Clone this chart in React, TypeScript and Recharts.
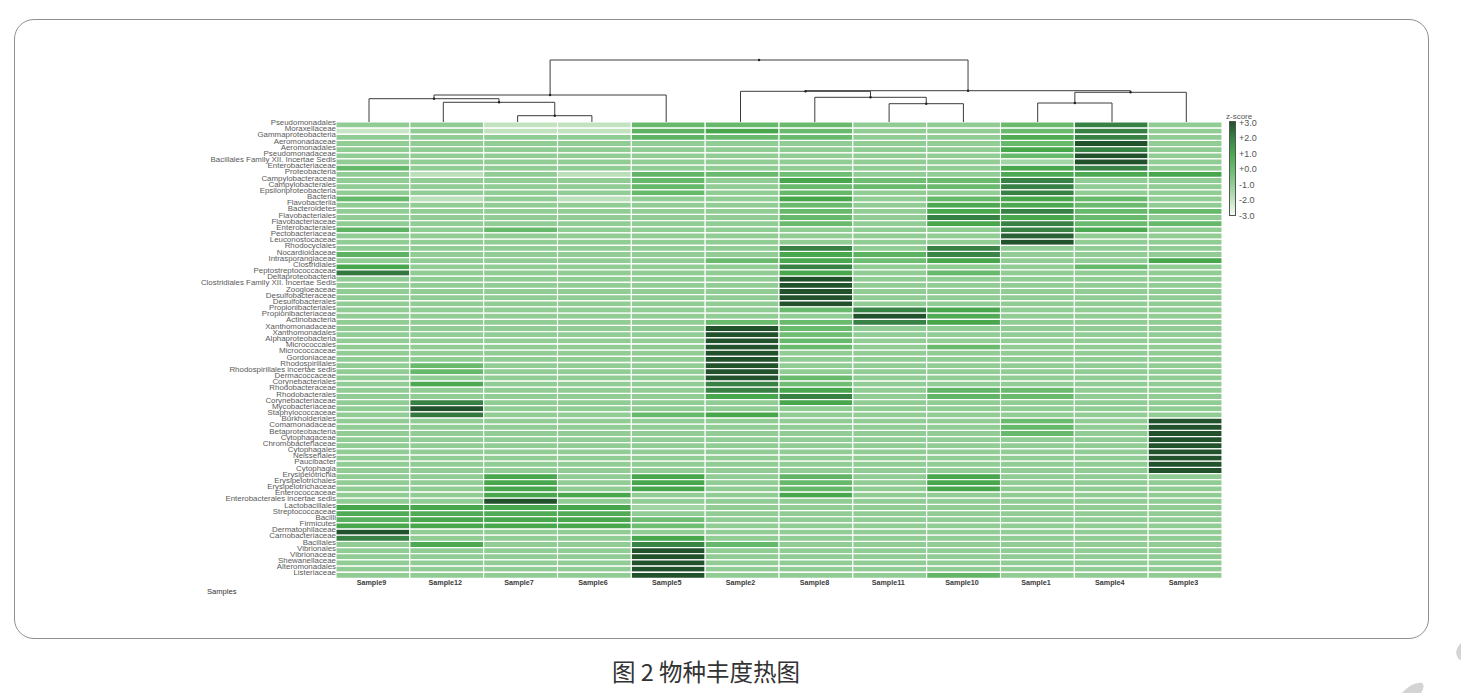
import { BarChart, Bar, Cell, XAxis, YAxis, LineChart, Line } from 'recharts';

const W = 1461;
const H = 693;

const sampleNames = ['Sample9', 'Sample12', 'Sample7', 'Sample6', 'Sample5', 'Sample2', 'Sample8', 'Sample11', 'Sample10', 'Sample1', 'Sample4', 'Sample3'];

const rowLabels = [
  'Pseudomonadales', 'Moraxellaceae', 'Gammaproteobacteria', 'Aeromonadaceae', 'Aeromonadales', 'Pseudomonadaceae',
  'Bacillales Family XII. Incertae Sedis', 'Enterobacteriaceae', 'Proteobacteria', 'Campylobacteraceae', 'Campylobacterales',
  'Epsilonproteobacteria', 'Bacteria', 'Flavobacteriia', 'Bacteroidetes', 'Flavobacteriales', 'Flavobacteriaceae',
  'Enterobacterales', 'Pectobacteriaceae', 'Leuconostocaceae', 'Rhodocyclales', 'Nocardioidaceae', 'Intrasporangiaceae',
  'Clostridiales', 'Peptostreptococcaceae', 'Deltaproteobacteria', 'Clostridiales Family XII. Incertae Sedis', 'Zoogloeaceae',
  'Desulfobacteraceae', 'Desulfobacterales', 'Propionibacteriales', 'Propionibacteriaceae', 'Actinobacteria',
  'Xanthomonadaceae', 'Xanthomonadales', 'Alphaproteobacteria', 'Micrococcales', 'Micrococcaceae', 'Gordoniaceae',
  'Rhodospirillales', 'Rhodospirillales incertae sedis', 'Dermacoccaceae', 'Corynebacteriales', 'Rhodobacteraceae',
  'Rhodobacterales', 'Corynebacteriaceae', 'Mycobacteriaceae', 'Staphylococcaceae', 'Burkholderiales', 'Comamonadaceae',
  'Betaproteobacteria', 'Cytophagaceae', 'Chromobacteriaceae', 'Cytophagales', 'Neisseriales', 'Paucibacter', 'Cytophagia',
  'Erysipelotrichia', 'Erysipelotrichales', 'Erysipelotrichaceae', 'Enterococcaceae', 'Enterobacterales incertae sedis',
  'Lactobacillales', 'Streptococcaceae', 'Bacilli', 'Firmicutes', 'Dermatophilaceae', 'Carnobacteriaceae', 'Bacillales',
  'Vibrionales', 'Vibrionaceae', 'Shewanellaceae', 'Alteromonadales', 'Listeriaceae',
];

// z-scores, one row per ten taxa. o is the pale background level most cells sit at
const o = -0.5;
const sample9 = [
  o, -1.5, o, o, o, o, o, 0.3, o, o,
  o, o, 0.3, o, o, o, o, 0.5, o, o,
  o, 0.5, o, 1, 2.2, o, o, o, o, o,
  o, o, o, o, o, o, o, o, o, o,
  o, o, o, o, o, o, o, o, o, o,
  o, o, o, o, o, o, o, o, o, o,
  o, o, 1, 0.8, 0.6, 1, 3, 2, o, o,
  o, o, o, o,
];
const sample12 = [
  o, o, o, o, o, o, o, o, -1.2, o,
  o, o, -1.2, o, o, o, o, o, o, o,
  o, o, o, o, o, o, o, o, o, o,
  o, o, o, o, o, o, o, o, o, 0.2,
  0.3, o, 0.9, o, o, 2, 3, 2.2, o, o,
  o, o, o, o, o, o, o, o, o, o,
  o, o, 1, 0.8, 1, 1, o, o, 0.9, o,
  o, o, o, o,
];
const sample7 = [
  -1.3, -1.3, o, o, o, o, o, o, o, o,
  o, o, o, o, o, o, o, 0.3, o, o,
  o, o, o, o, o, o, o, o, o, o,
  o, o, o, o, o, o, o, o, o, o,
  o, o, o, o, o, o, o, o, o, o,
  o, o, o, o, o, o, o, 1, 1, 1,
  1, 3, 1, 0.8, 1, 1, o, o, o, o,
  o, o, o, o,
];
const sample6 = [
  -1.3, -1.3, o, o, o, o, o, o, -1.2, o,
  o, o, -1.2, o, o, o, o, o, o, o,
  o, o, o, o, o, o, o, o, o, o,
  o, o, o, o, o, o, o, o, o, o,
  o, o, o, o, o, o, o, o, o, o,
  o, o, o, o, o, o, o, o, o, o,
  1, o, 1, 0.8, 1, 1, o, o, o, o,
  o, o, o, o,
];
const sample5 = [
  0.3, 0.5, 0.5, o, o, o, o, o, 0.4, 0.3,
  0.3, 0.3, o, o, o, o, o, o, o, o,
  o, o, o, o, o, o, o, o, o, o,
  o, o, o, o, o, o, o, o, o, o,
  o, o, o, o, o, o, o, 0.3, o, o,
  o, o, o, o, o, o, o, 1, 1, 1,
  o, o, -0.8, o, 0.1, 0.1, o, 1, 1.9, 3,
  3, 3, 3, 3,
];
const sample2 = [
  0.3, 1, 0.2, o, o, o, o, o, 0.2, o,
  o, o, o, o, o, o, o, o, o, o,
  o, o, 0.2, o, o, o, o, o, o, o,
  o, o, 0.2, 3, 3, 3, 3, 3, 3, 3,
  3, 3, 2, 2, 1, o, o, 1, o, o,
  o, o, o, o, o, o, o, o, o, o,
  o, o, o, o, o, o, o, o, 0.3, o,
  o, o, o, o,
];
const sample8 = [
  0.2, 0.2, 0.2, o, o, o, o, o, 0.1, 1,
  0.2, 0.3, 1, 0.2, 0.3, 0.3, 0.2, o, o, o,
  2, 1, 1, 2, 1, 3, 3, 3, 3, 3,
  0.2, o, 0.2, 0.2, 0.1, 0.3, 0.2, o, o, o,
  o, 0.2, 0.1, 1, 2, 1, o, o, o, o,
  o, o, o, o, o, o, o, 0.4, 0.3, 0.3,
  1, o, o, o, o, o, o, o, o, o,
  o, o, o, o,
];
const sample11 = [
  o, o, o, o, o, o, o, o, o, 0.1,
  0.2, o, o, o, o, o, o, o, o, o,
  o, 0.5, 0.1, o, o, o, o, o, o, o,
  2, 3, 2, o, o, o, o, o, o, o,
  o, o, o, o, o, o, o, o, o, o,
  o, o, o, o, o, o, o, o, o, o,
  o, o, o, o, o, o, o, o, o, o,
  o, o, o, o,
];
const sample10 = [
  o, o, o, o, o, o, o, o, o, 0.2,
  0.2, o, 0.3, 0.9, 1, 2, 1, o, o, o,
  2, 1.9, 1, o, 0.3, o, o, o, o, o,
  1, 0.8, 1, o, o, o, 0.2, o, o, o,
  o, o, o, 0.4, 0.4, o, o, o, o, o,
  o, o, o, o, o, o, o, 1, 1, 1,
  o, o, o, o, o, o, o, o, o, o,
  o, o, o, 0.4,
];
const sample1 = [
  0.2, 0.2, 0.8, 0.3, 1, 0.3, -0.8, 1, 0.9, 2,
  2, 2, 1, 0.9, 2, 1, 2, 2, 2.7, 3,
  o, o, o, o, o, o, o, o, o, o,
  o, o, o, o, o, o, o, o, o, o,
  o, o, o, 0.2, 0.2, o, o, o, 0.2, 0.3,
  0.3, o, o, o, o, o, o, o, o, o,
  o, o, o, o, o, o, o, o, o, o,
  o, o, o, o,
];
const sample4 = [
  2, 2, 2, 3, 2, 3, 3, 2, 0.9, o,
  o, o, 0.3, 0.2, 0.3, 0.2, 0.2, 0.9, o, o,
  o, o, o, 0.3, o, o, o, o, o, o,
  o, o, o, o, o, o, o, o, o, o,
  o, o, o, o, o, o, o, o, o, o,
  o, o, o, o, o, o, o, o, o, o,
  o, o, o, o, o, o, o, o, o, o,
  o, o, o, o,
];
const sample3 = [
  o, o, o, o, o, o, o, o, 1, o,
  o, o, o, o, 0.3, o, 0.3, o, o, o,
  o, o, 1, o, o, o, o, o, o, o,
  o, o, o, o, o, o, o, o, o, o,
  o, o, o, o, o, o, o, o, 3, 3,
  3, 3, 3, 3, 3, 3, 3, o, o, o,
  o, o, o, o, o, o, o, o, o, o,
  o, o, o, o,
];
const sampleValues = [sample9, sample12, sample7, sample6, sample5, sample2, sample8, sample11, sample10, sample1, sample4, sample3];

const legendTicks = ['+3.0', '+2.0', '+1.0', '+0.0', '-1.0', '-2.0', '-3.0'];

// dendrogram merges: left position, left height, right position, right height, merge height
const merges = [
  [2, 0, 3, 0, 6.3],
  [1, 0, 2.5, 6.3, 19.7],
  [0, 0, 1.75, 19.7, 23.3],
  [0.875, 23.3, 4, 0, 27],
  [7, 0, 8, 0, 18.3],
  [6, 0, 7.5, 18.3, 24.7],
  [5, 0, 6.75, 24.7, 30.7],
  [9, 0, 10, 0, 19],
  [9.5, 19, 11, 0, 29.7],
  [5.875, 30.7, 10.25, 29.7, 31.3],
  [2.4375, 27, 8.0625, 31.3, 62],
];

const stops: [number, number[]][] = [
  [-3, [246, 251, 245]],
  [-1.3, [194, 226, 192]],
  [-0.5, [144, 204, 148]],
  [0.2, [106, 186, 110]],
  [1, [72, 166, 77]],
  [2, [56, 129, 69]],
  [3, [34, 82, 44]],
];

function zColor(v: number) {
  for (let i = 1; i < stops.length; i++) {
    const [hi, c1] = stops[i];
    const [lo, c0] = stops[i - 1];
    if (v <= hi) {
      const t = (v - lo) / (hi - lo);
      const c = c0.map((a, k) => Math.round(a + (c1[k] - a) * t));
      return `rgb(${c.join(',')})`;
    }
  }
  return '#22522c';
}

const rows = rowLabels.map(name => {
  const row: Record<string, string | number> = { name };
  sampleNames.forEach(s => { row[s] = 1; });
  return row;
});

const RowTick = ({ x, y, payload }: any) => (
  <text x={x + 6} y={y} textAnchor="end" fontSize={7.9} fontFamily="Liberation Sans" fill="#5a5a5a">
    {payload.value}
  </text>
);

const SampleTick = ({ x, y, payload }: any) => (
  <text x={x - 1.5} y={y - 1.3} textAnchor="middle" fontSize={7.2} fontFamily="Liberation Sans" fontWeight={700} fill="#3a3a3a">
    {sampleNames[payload.value - 0.5]}
  </text>
);

const MergeDot = ({ cx, cy, payload }: any) =>
  payload.center ? <circle key={`${cx}-${cy}`} cx={cx} cy={cy} r={1.2} fill="#222" /> : <g key={`${cx}-${cy}-${payload.x}`} />;

const legendGradient = `linear-gradient(to bottom, ${[3, 2, 1, 0.2, -0.5, -1.3, -3].map(zColor).join(', ')})`;

export default function App() {
  return (
    <div style={{ position: 'absolute', left: 0, top: 0, width: W, height: H, background: '#fff', overflow: 'hidden' }}>
      <div style={{ position: 'absolute', left: 14, top: 19, width: 1413, height: 618, border: '1px solid #8f8f8f', borderRadius: 20 }} />

      <div style={{ position: 'absolute', left: 0, top: 0 }}>
        <BarChart
          width={W}
          height={H}
          data={rows}
          layout="vertical"
          barCategoryGap={0}
          margin={{ top: 122, right: 239, bottom: 94.5, left: 0 }}
        >
          <XAxis
            type="number"
            domain={[0, 12]}
            ticks={sampleNames.map((_, i) => i + 0.5)}
            interval={0}
            tick={<SampleTick />}
            tickLine={false}
            axisLine={false}
            height={20}
          />
          <YAxis
            type="category"
            dataKey="name"
            width={336}
            interval={0}
            tick={<RowTick />}
            tickLine={false}
            axisLine={false}
            tickMargin={0}
          />
          {sampleNames.map((s, i) => (
            <Bar key={s} dataKey={s} stackId="heat" isAnimationActive={false}>
              {sampleValues[i].map((v, r) => (
                <Cell key={r} fill={zColor(v)} stroke="#fff" strokeWidth={1.1} />
              ))}
            </Bar>
          ))}
        </BarChart>
      </div>

      <div style={{ position: 'absolute', left: 0, top: 0 }}>
        <LineChart width={W} height={H} margin={{ top: 50, right: 237.55, bottom: 571, left: 331.85 }}>
          <XAxis type="number" dataKey="x" domain={[-0.5, 11.5]} hide />
          <YAxis type="number" domain={[0, 72]} hide />
          {merges.map(([a, ha, b, hb, h], i) => (
            <Line
              key={i}
              data={[
                { x: a, h: ha },
                { x: a, h },
                { x: (a + b) / 2, h, center: true },
                { x: b, h },
                { x: b, h: hb },
              ]}
              dataKey="h"
              stroke="#3c3c3c"
              strokeWidth={1}
              dot={<MergeDot />}
              activeDot={false}
              isAnimationActive={false}
            />
          ))}
        </LineChart>
      </div>

      <div style={{ position: 'absolute', left: 207, top: 587, fontSize: 7.6, fontFamily: 'Liberation Sans', color: '#333', lineHeight: '10px' }}>Samples</div>

      <div style={{ position: 'absolute', left: 1226, top: 112, fontSize: 8, fontFamily: 'Liberation Sans', color: '#555', lineHeight: '9px' }}>z-score</div>
      <div style={{ position: 'absolute', left: 1229, top: 121, width: 5, height: 93, border: '1px solid #555', background: legendGradient }} />
      {legendTicks.map((t, i) => (
        <div key={t} style={{ position: 'absolute', left: 1239, top: 117.5 + i * 15.55, fontSize: 9, fontFamily: 'Liberation Sans', color: '#555', lineHeight: '11px' }}>{t}</div>
      ))}

      <div style={{ position: 'absolute', left: 0, width: 1412, top: 657, textAlign: 'center', fontSize: 23.5, lineHeight: '28px', fontFamily: 'Noto Sans CJK SC', color: '#333' }}>
        图 2 物种丰度热图
      </div>

      <svg width={W} height={H} style={{ position: 'absolute', left: 0, top: 0 }}>
        <path d="M1461 643 C1457 647 1455 652 1457 656 C1458 659 1460 660 1461 660 Z" fill="#d4d4d4" />
        <path d="M1402 693 C1408 686 1416 682 1422 683 C1425 685 1423 690 1421 693 Z" fill="#d4d4d4" />
      </svg>
    </div>
  );
}
